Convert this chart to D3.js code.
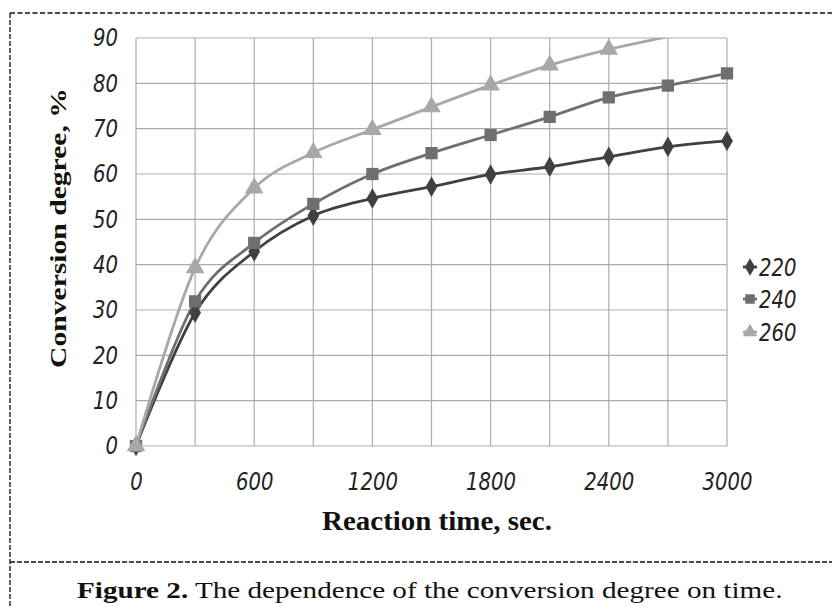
<!DOCTYPE html>
<html>
<head>
<meta charset="utf-8">
<script src="https://cdn.jsdelivr.net/npm/d3@7"></script>
<style>
  body { margin: 0; background: #fff; }
  svg { display: block; }
</style>
</head>
<body>
<svg id="chart"></svg>
<script>
// data
const times = [0, 300, 600, 900, 1200, 1500, 1800, 2100, 2400, 2700, 3000];
const t220 = [0, 29.4, 42.9, 50.8, 54.6, 57.2, 59.9, 61.6, 63.8, 66.0, 67.3];
const t240 = [0, 31.9, 44.8, 53.4, 60.0, 64.6, 68.6, 72.6, 76.9, 79.5, 82.2];
const t260 = [0, 39.3, 56.9, 64.7, 69.8, 74.8, 79.6, 84.0, 87.5, 90.3, 93.0];
const seriesNames = ["220", "240", "260"];
const xTicks = [0, 600, 1200, 1800, 2400, 3000];
const yTicks = [0, 10, 20, 30, 40, 50, 60, 70, 80, 90];

const width = 832;
const height = 607;

const svg = d3.select("#chart")
    .attr("width", width)
    .attr("height", height);

const plot = { left: 136, right: 727, top: 38, bottom: 446 };

const x = d3.scaleLinear().domain([0, 3000]).range([plot.left, plot.right]);
const y = d3.scaleLinear().domain([0, 90]).range([plot.bottom, plot.top]);

const tickFont = "'DejaVu Sans', sans-serif";
const serif = "'Liberation Serif', 'Times New Roman', serif";
const squeeze = 0.82;

// dashed frame
const frame = svg.append("g").attr("stroke", "#111").attr("stroke-width", 1.3).attr("fill", "none");
frame.append("line").attr("x1", 10).attr("x2", width).attr("y1", 13).attr("y2", 13).attr("stroke-dasharray", "5,2.5");
frame.append("line").attr("x1", 10).attr("x2", 10).attr("y1", 13).attr("y2", height).attr("stroke-dasharray", "5,2");
frame.append("line").attr("x1", 10).attr("x2", width).attr("y1", 562).attr("y2", 562).attr("stroke-dasharray", "5,2");

// grid
const grid = svg.append("g").attr("stroke", "#ababab").attr("stroke-width", 1.2);
grid.selectAll("line.v")
    .data(d3.range(0, 3001, 300))
    .enter().append("line")
    .attr("class", "v")
    .attr("x1", d => x(d)).attr("x2", d => x(d))
    .attr("y1", plot.top).attr("y2", plot.bottom);
grid.selectAll("line.h")
    .data(yTicks)
    .enter().append("line")
    .attr("class", "h")
    .attr("x1", plot.left).attr("x2", plot.right)
    .attr("y1", d => y(d)).attr("y2", d => y(d));

// axes (labels only)
const yAxis = svg.append("g")
    .attr("transform", `translate(${plot.left - 18},0)`)
    .call(d3.axisLeft(y).tickValues(yTicks).tickSize(0).tickPadding(0).tickFormat(d3.format("d")));
const xAxis = svg.append("g")
    .attr("transform", `translate(0,${plot.bottom + 27})`)
    .call(d3.axisBottom(x).tickValues(xTicks).tickSize(0).tickPadding(0).tickFormat(d3.format("d")));
[yAxis, xAxis].forEach(a => {
    a.select(".domain").remove();
    a.selectAll("text")
        .attr("font-family", tickFont)
        .attr("font-style", "italic")
        .attr("font-weight", 200)
        .attr("font-size", 24)
        .attr("fill", "#222")
        .attr("transform", `scale(${squeeze},1)`);
});

// series
const series = [
    { name: seriesNames[0], values: t220, color: "#404040", shape: d3.symbolDiamond },
    { name: seriesNames[1], values: t240, color: "#6f6f6f", shape: d3.symbolSquare },
    { name: seriesNames[2], values: t260, color: "#a8a8a8", shape: d3.symbolTriangle }
];

svg.append("clipPath").attr("id", "clip")
    .append("rect")
    .attr("x", plot.left - 10).attr("y", plot.top)
    .attr("width", plot.right - plot.left + 20).attr("height", plot.bottom - plot.top + 10);

const line = d3.line()
    .x((d, i) => x(times[i]))
    .y(d => y(d))
    .curve(d3.curveCatmullRom.alpha(0));

const marks = svg.append("g").attr("clip-path", "url(#clip)");
series.forEach(s => {
    marks.append("path")
        .attr("d", line(s.values))
        .attr("fill", "none")
        .attr("stroke", s.color)
        .attr("stroke-width", 2.8);
});
series.forEach(s => {
    marks.selectAll(null)
        .data(s.values.map((v, i) => ({ t: times[i], v })).filter(d => d.v <= 90))
        .enter().append("path")
        .attr("d", d3.symbol().type(s.shape).size(s.shape === d3.symbolDiamond ? 120 : 150))
        .attr("transform", d => `translate(${x(d.t)},${y(d.v)})`)
        .attr("fill", s.color);
});

// legend
const legendY = [267, 299, 332];
const legend = svg.append("g");
series.forEach((s, i) => {
    const g = legend.append("g").attr("transform", `translate(750,${legendY[i]})`);
    g.append("line").attr("x1", -7).attr("x2", 7).attr("stroke", s.color).attr("stroke-width", 2.8);
    g.append("path")
        .attr("d", d3.symbol().type(s.shape).size(90))
        .attr("fill", s.color);
    g.append("text")
        .attr("x", 9 / squeeze).attr("dy", "0.36em")
        .attr("font-family", tickFont)
        .attr("font-style", "italic")
        .attr("font-weight", 200)
        .attr("font-size", 24)
        .attr("fill", "#222")
        .attr("transform", `scale(${squeeze},1)`)
        .text(s.name);
});

// fit a text to a measured length by stretching it
function fitText(sel, len) {
    const w = sel.node().getComputedTextLength();
    return len / w;
}

// axis titles
const yTitle = svg.append("text")
    .attr("font-family", serif)
    .attr("font-weight", "bold")
    .attr("font-size", 24)
    .attr("fill", "#111")
    .attr("text-anchor", "middle")
    .text("Conversion degree, %");
const sy = fitText(yTitle, 280);
yTitle.attr("transform", `translate(66,228) rotate(-90) scale(${sy},1)`);

const xTitle = svg.append("text")
    .attr("font-family", serif)
    .attr("font-weight", "bold")
    .attr("font-size", 27)
    .attr("fill", "#111")
    .attr("text-anchor", "middle")
    .text("Reaction time, sec.");
const sx = fitText(xTitle, 230);
xTitle.attr("transform", `translate(437,530) scale(${sx},1)`);

// caption
const caption = svg.append("text")
    .attr("font-family", serif)
    .attr("font-size", 24)
    .attr("fill", "#111");
caption.append("tspan").attr("font-weight", "bold").text("Figure 2.");
caption.append("tspan").text(" The dependence of the conversion degree on time.");
const sc = fitText(caption, 706);
caption.attr("transform", `translate(77,598) scale(${sc},1)`);
</script>
</body>
</html>
